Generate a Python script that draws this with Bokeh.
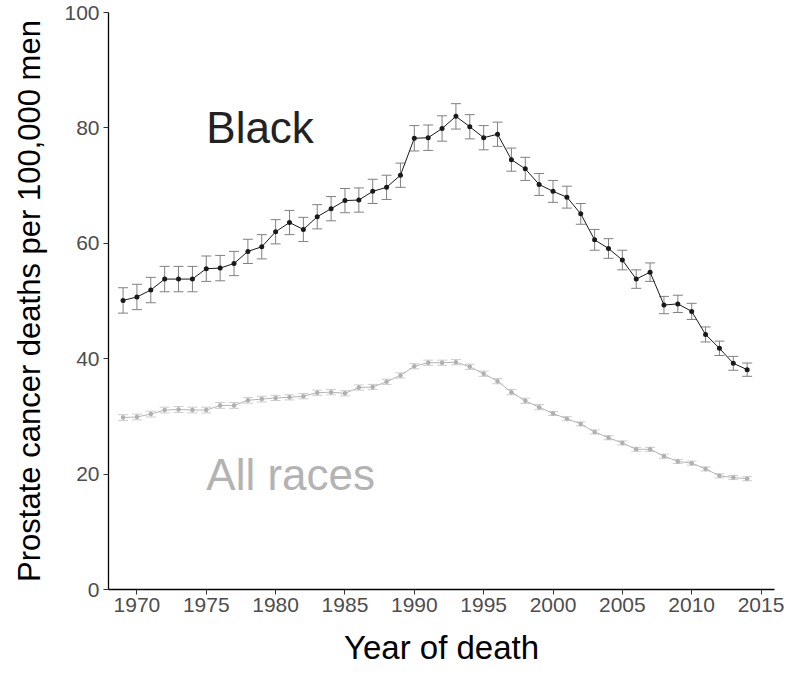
from bokeh.plotting import figure
from bokeh.models import ColumnDataSource, Range1d, Whisker, TeeHead, FixedTicker
from bokeh.core.properties import value
from bokeh.embed import file_html
from bokeh.resources import INLINE

years = list(range(1969, 2015))
black_rate = [50.1, 50.7, 51.9, 53.8, 53.8, 53.8, 55.6, 55.7, 56.5, 58.6, 59.4,
              62.0, 63.6, 62.4, 64.6, 66.0, 67.4, 67.5, 69.0, 69.7, 71.8,
              78.2, 78.3, 79.9, 82.0, 80.2, 78.3, 78.9, 74.5, 72.9, 70.2,
              69.0, 68.0, 65.1, 60.6, 59.1, 57.1, 53.8, 55.0, 49.3, 49.5,
              48.2, 44.2, 41.8, 39.2, 38.1]
black_err = [2.2, 2.2, 2.2, 2.2, 2.2, 2.2, 2.2, 2.2, 2.1, 2.1, 2.1,
             2.1, 2.1, 2.1, 2.1, 2.1, 2.1, 2.1, 2.1, 2.1, 2.1,
             2.2, 2.2, 2.2, 2.2, 2.1, 2.1, 2.1, 2.0, 2.0, 1.9,
             1.9, 1.9, 1.8, 1.8, 1.7, 1.7, 1.6, 1.6, 1.5, 1.5,
             1.4, 1.3, 1.25, 1.2, 1.15]
all_rate = [29.8, 29.9, 30.4, 31.1, 31.2, 31.1, 31.1, 31.9, 31.9, 32.8, 33.0,
            33.2, 33.3, 33.5, 34.1, 34.2, 34.0, 35.0, 35.1, 36.0, 37.1,
            38.7, 39.3, 39.3, 39.4, 38.6, 37.4, 36.1, 34.2, 32.7, 31.6,
            30.5, 29.6, 28.7, 27.3, 26.3, 25.4, 24.3, 24.3, 23.1, 22.2,
            21.9, 20.9, 19.7, 19.4, 19.2]
all_err = [0.5] * 11 + [0.45] * 20 + [0.35] * 15

x_ticks = [1970, 1975, 1980, 1985, 1990, 1995, 2000, 2005, 2010, 2015]
y_ticks = [0, 20, 40, 60, 80, 100]
label_text = ["Black", "All races"]
label_x = [1975, 1975]
label_y = [80, 20]

FONT = "Liberation Sans"

src_b = ColumnDataSource(dict(
    x=years, y=black_rate,
    lo=[v - e for v, e in zip(black_rate, black_err)],
    hi=[v + e for v, e in zip(black_rate, black_err)]))
src_a = ColumnDataSource(dict(
    x=years, y=all_rate,
    lo=[v - e for v, e in zip(all_rate, all_err)],
    hi=[v + e for v, e in zip(all_rate, all_err)]))

p = figure(width=784, height=669, output_backend="svg", toolbar_location=None,
           x_range=Range1d(1967.95, 2015.97), y_range=Range1d(0, 100),
           min_border_left=108, min_border_right=10, min_border_top=12,
           min_border_bottom=80)
p.outline_line_color = None
p.xgrid.visible = False
p.ygrid.visible = False

# error bars
wa = Whisker(base="x", lower="lo", upper="hi", source=src_a,
             line_color="#cccccc", line_width=1,
             upper_head=TeeHead(size=10, line_color="#cccccc", line_width=1),
             lower_head=TeeHead(size=10, line_color="#cccccc", line_width=1))
wb = Whisker(base="x", lower="lo", upper="hi", source=src_b,
             line_color="#808080", line_width=1,
             upper_head=TeeHead(size=10, line_color="#808080", line_width=1),
             lower_head=TeeHead(size=10, line_color="#808080", line_width=1))
p.add_layout(wa)
p.add_layout(wb)

p.line("x", "y", source=src_a, line_color="#b5b5b5", line_width=1)
p.scatter("x", "y", source=src_a, size=4.5, fill_color="#b0b0b0", line_color=None)
p.line("x", "y", source=src_b, line_color="#1a1a1a", line_width=1)
p.scatter("x", "y", source=src_b, size=5, fill_color="#1a1a1a", line_color=None)

p.text(x=[label_x[0]], y=[label_y[0]], text=[label_text[0]],
       text_font=value(FONT), text_font_size="44px", text_color="#222222",
       text_baseline="middle", text_align="left")
p.text(x=[label_x[1]], y=[label_y[1]], text=[label_text[1]],
       text_font=value(FONT), text_font_size="44px", text_color="#b3b3b3",
       text_baseline="middle", text_align="left")

for ax in (p.xaxis[0], p.yaxis[0]):
    ax.axis_line_color = "black"
    ax.axis_line_width = 1.3
    ax.major_tick_line_color = "#333333"
    ax.major_tick_in = 0
    ax.major_tick_out = 5
    ax.minor_tick_line_color = None
    ax.major_label_text_font = FONT
    ax.major_label_text_font_size = "21px"
    ax.major_label_text_color = "#4d4d4d"
    ax.axis_label_text_font = FONT
    ax.axis_label_text_font_style = "normal"
    ax.axis_label_text_color = "black"

p.xaxis[0].ticker = FixedTicker(ticks=x_ticks)
p.yaxis[0].ticker = FixedTicker(ticks=y_ticks)
p.xaxis[0].axis_label = "Year of death"
p.xaxis[0].axis_label_text_font_size = "33px"
p.xaxis[0].axis_label_standoff = 14
p.xaxis[0].major_label_standoff = 3
p.yaxis[0].axis_label = "Prostate cancer deaths per 100,000 men"
p.yaxis[0].axis_label_text_font_size = "31px"
p.yaxis[0].axis_label_standoff = 14
p.yaxis[0].major_label_standoff = 4

open("out.html", "w").write(file_html(p, INLINE))
